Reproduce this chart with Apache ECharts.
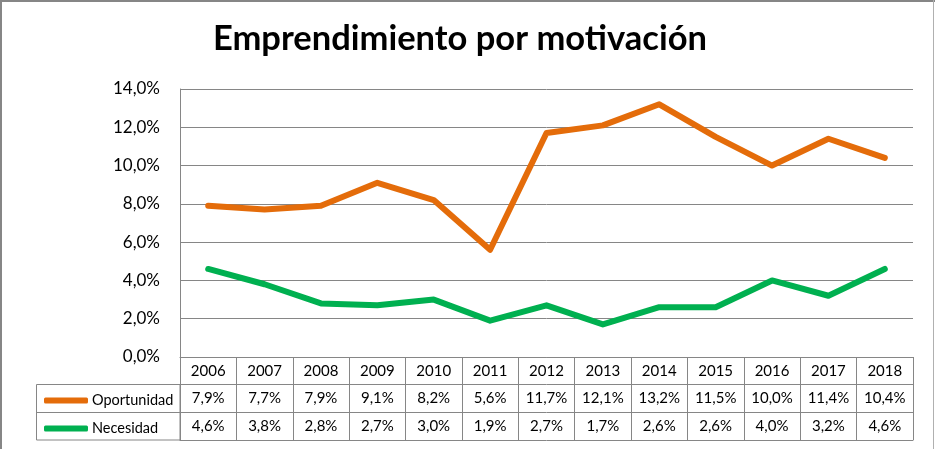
<!DOCTYPE html>
<html>
<head>
<meta charset="utf-8">
<script src="https://cdn.jsdelivr.net/npm/echarts@6/dist/echarts.min.js"></script>
<style>
  html, body { margin: 0; padding: 0; background: #fff; }
  #chart { width: 935px; height: 449px; }
</style>
</head>
<body>
<div id="chart"></div>
<script>
var years = ["2006", "2007", "2008", "2009", "2010", "2011", "2012", "2013", "2014", "2015", "2016", "2017", "2018"];
var oportunidad = [7.9, 7.7, 7.9, 9.1, 8.2, 5.6, 11.7, 12.1, 13.2, 11.5, 10.0, 11.4, 10.4];
var necesidad = [4.6, 3.8, 2.8, 2.7, 3.0, 1.9, 2.7, 1.7, 2.6, 2.6, 4.0, 3.2, 4.6];

var FONT = "Lato";
var GRID = "#868686";

function pct(v) {
  return v.toFixed(1).replace(".", ",") + "%";
}

var chart = echarts.init(document.getElementById("chart"));

// eje de categorías "tabla": cada fila de la tabla es un eje x desplazado
function tableAxis(labels, offset, showTick) {
  return {
    type: "category",
    position: "bottom",
    offset: offset,
    data: labels,
    boundaryGap: true,
    axisLine: { show: true, lineStyle: { color: GRID, width: 1 } },
    axisTick: { show: showTick, interval: 0, length: 28, lineStyle: { color: GRID } },
    axisLabel: { show: showTick, interval: 0, margin: 7, fontFamily: FONT, fontSize: 15, color: "#000" },
    splitLine: { show: false }
  };
}

var option = {
  animation: false,
  backgroundColor: "#fff",
  title: {
    text: "Emprendimiento por motivación",
    left: 208,
    top: 16,
    textStyle: { fontFamily: FONT, fontWeight: "bold", fontSize: 34.5, color: "#000" }
  },
  legend: [
    {
      data: ["Oportunidad"], left: 39, top: 388, icon: "roundRect",
      itemWidth: 44, itemHeight: 6, itemGap: 5,
      textStyle: { fontFamily: FONT, fontSize: 14.5, color: "#000", padding: [0, 0, 0, -1] }
    },
    {
      data: ["Necesidad"], left: 39, top: 416, icon: "roundRect",
      itemWidth: 44, itemHeight: 6, itemGap: 5,
      textStyle: { fontFamily: FONT, fontSize: 14.5, color: "#000", padding: [0, 0, 0, -1] }
    }
  ],
  grid: { left: 180, right: 22, top: 89, bottom: 92 },
  xAxis: [
    tableAxis(years, 0, true),
    tableAxis(oportunidad.map(pct), 27, true),
    tableAxis(necesidad.map(pct), 55, true),
    tableAxis(years.map(function () { return ""; }), 83, false)
  ],
  yAxis: {
    type: "value",
    min: 0,
    max: 14,
    interval: 2,
    axisLine: { show: true, lineStyle: { color: GRID } },
    axisTick: { show: false },
    axisLabel: {
      margin: 20, fontFamily: FONT, fontSize: 17, color: "#000",
      formatter: function (v) { return pct(v); }
    },
    splitLine: { lineStyle: { color: GRID, width: 1 } }
  },
  series: [
    {
      name: "Oportunidad",
      type: "line",
      data: oportunidad,
      symbol: "none",
      color: "#E46C0A",
      lineStyle: { width: 6, color: "#E46C0A", cap: "round", join: "round" }
    },
    {
      name: "Necesidad",
      type: "line",
      data: necesidad,
      symbol: "none",
      color: "#00B050",
      lineStyle: { width: 6, color: "#00B050", cap: "round", join: "round" }
    }
  ],
  graphic: [
    // marco exterior del gráfico (el borde inferior queda fuera de la imagen)
    { type: "rect", shape: { x: 0, y: 0, width: 935, height: 2 }, style: { fill: GRID }, silent: true },
    { type: "rect", shape: { x: 0, y: 0, width: 2, height: 449 }, style: { fill: GRID }, silent: true },
    { type: "line", shape: { x1: 933.5, y1: 0, x2: 933.5, y2: 449 }, style: { stroke: "#b0b0b0", lineWidth: 1 }, silent: true },
    // columna de leyenda de la tabla
    { type: "rect", shape: { x: 36.5, y: 384.5, width: 143.5, height: 55.5 }, style: { fill: null, stroke: GRID, lineWidth: 1 }, silent: true },
    { type: "line", shape: { x1: 36.5, y1: 412.5, x2: 180, y2: 412.5 }, style: { stroke: GRID, lineWidth: 1 }, silent: true }
  ]
};

chart.setOption(option);
</script>
</body>
</html>
